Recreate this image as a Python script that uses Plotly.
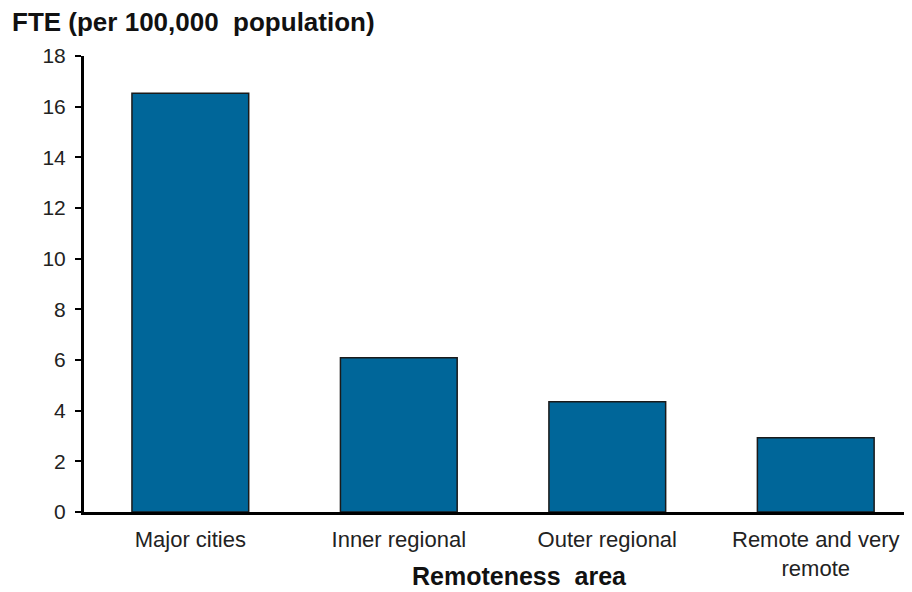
import plotly.graph_objects as go

categories = ["Major cities", "Inner regional", "Outer regional", "Remote and very<br>remote"]
values = [16.53, 6.09, 4.35, 2.93]
y_ticks = [0, 2, 4, 6, 8, 10, 12, 14, 16, 18]

FONT = "Liberation Sans, Arial, sans-serif"

# the page body adds an 8px offset; figure coordinates are compensated below
L, T, B = 76, 48, 88
W, H = 912, 592
PW, PH = W - L, H - T - B

fig = go.Figure(
    go.Bar(
        x=categories,
        y=values,
        width=0.56,
        marker=dict(color="#006699", line=dict(color="#1a1a1a", width=1.5)),
    )
)

fig.update_layout(
    width=W,
    height=H,
    margin=dict(l=L, r=0, t=T, b=B),
    paper_bgcolor="white",
    plot_bgcolor="white",
    showlegend=False,
    font=dict(family=FONT, size=21, color="#222222"),
    xaxis=dict(
        range=[-0.51, 3.50],
        showline=True,
        linecolor="black",
        linewidth=3,
        ticks="",
        showgrid=False,
        zeroline=False,
        tickfont=dict(size=22, color="#222222"),
        ticklabelstandoff=6,
    ),
    yaxis=dict(
        range=[0, 18],
        tickvals=y_ticks,
        showline=True,
        linecolor="black",
        linewidth=3,
        ticks="outside",
        ticklen=6,
        tickwidth=2,
        tickcolor="black",
        showgrid=False,
        zeroline=False,
        tickfont=dict(size=21, color="#222222"),
        ticklabelstandoff=5,
    ),
    annotations=[
        dict(
            text="<b>FTE (per 100,000 &nbsp;population)</b>",
            xref="paper", yref="paper",
            x=(2 - L) / PW, y=1 + (T - 14) / PH,
            xanchor="left", yanchor="middle",
            showarrow=False,
            font=dict(size=26, color="#111111", family=FONT),
        ),
        dict(
            text="<b>Remoteness &nbsp;area</b>",
            xref="paper", yref="paper",
            x=(512 - L) / PW, y=-(568 - (T + PH)) / PH,
            xanchor="center", yanchor="middle",
            showarrow=False,
            font=dict(size=25, color="#111111", family=FONT),
        ),
    ],
)

fig.write_html("out.html")
